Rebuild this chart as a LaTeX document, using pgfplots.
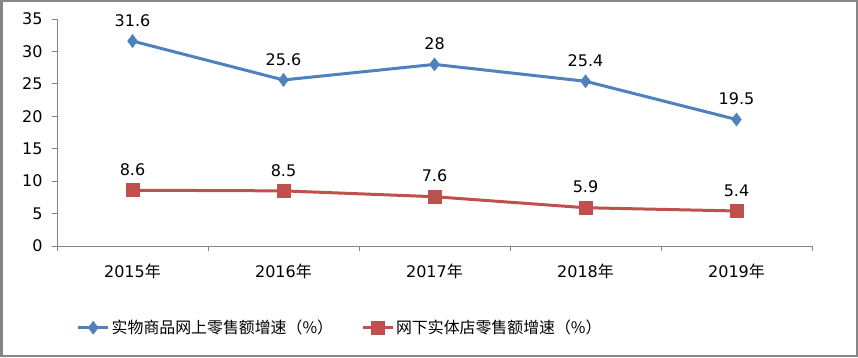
\documentclass[border=0pt]{standalone}
\usepackage{pgfplots}
\pgfplotsset{compat=1.18}
\usepackage{fontspec}
\setmainfont{DejaVu Sans}
\newfontfamily\cjk{Noto Sans CJK SC}
\definecolor{sblue}{HTML}{4F81BD}
\definecolor{sred}{HTML}{C0504D}
\definecolor{axgray}{HTML}{868686}
\begin{document}
\begin{tikzpicture}[x=1bp,y=1bp]
\fill[white] (0,0) rectangle (858,357);
\draw[axgray,line width=2.5bp] (1.25,1.25) rectangle (856.75,355.75);
\begin{axis}[
  at={(57bp,111bp)}, anchor=south west,
  scale only axis, width=755bp, height=227bp,
  xmin=-0.5, xmax=4.5, ymin=0, ymax=35,
  axis x line*=bottom, axis y line*=left,
  axis line style={axgray,line width=0.8pt,-},
  xtick={0,1,2,3,4},
  xticklabels={2015{\cjk 年},2016{\cjk 年},2017{\cjk 年},2018{\cjk 年},2019{\cjk 年}},
  major x tick style={draw=none},
  minor xtick={-0.5,0.5,1.5,2.5,3.5,4.5},
  minor x tick style={axgray,line width=0.8pt},
  ytick={0,5,...,35},
  y tick style={axgray,line width=0.8pt},
  tick align=outside,
  major tick length=5bp, minor tick length=5bp,
  /pgf/number format/assume math mode=true,
  tick label style={font=\fontsize{16bp}{18bp}\selectfont, text=black},
  yticklabel style={xshift=-6bp},
  xticklabel style={yshift=-9bp},
  nodes near coords,
  every node near coord/.append style={font=\fontsize{16bp}{18bp}\selectfont, text=black, yshift=11bp},
  point meta=explicit symbolic,
  legend style={at={(0.375,-0.36)}, anchor=center, draw=none, fill=none,
    legend columns=2, font=\cjk\fontsize{15.9bp}{18bp}\selectfont,
    /tikz/every even column/.append style={column sep=26bp}},
  legend image code/.code={
    \draw[#1] (0bp,0bp) -- (30bp,0bp);
    \draw[#1, only marks] plot coordinates {(15bp,0bp)};
  },
  clip=false,
]
\addplot[color=sblue, line width=3bp, mark=diamond*, mark size=6.5bp, mark options={line width=0.5pt, fill=sblue}]
  coordinates {(0,31.6)[31.6] (1,25.6)[25.6] (2,28)[28] (3,25.4)[25.4] (4,19.5)[19.5]};
\addlegendentry{实物商品网上零售额增速（\%）}
\addplot[color=sred, line width=3bp, mark=square*, mark size=6.5bp, mark options={line width=0.5pt, fill=sred}]
  coordinates {(0,8.6)[8.6] (1,8.5)[8.5] (2,7.6)[7.6] (3,5.9)[5.9] (4,5.4)[5.4]};
\addlegendentry{网下实体店零售额增速（\%）}
\end{axis}
\end{tikzpicture}
\end{document}
